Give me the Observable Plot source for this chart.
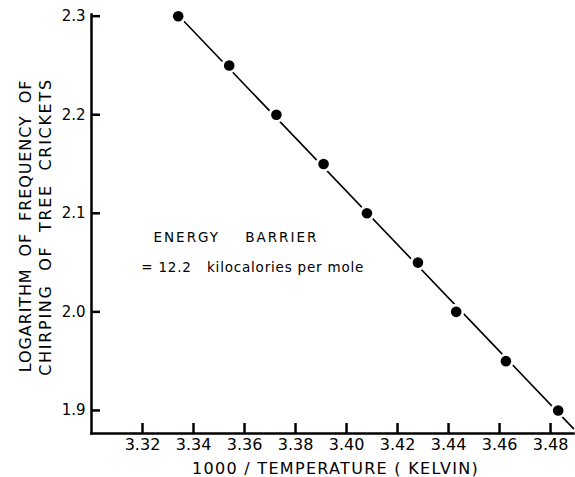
<!DOCTYPE html>
<html>
<head>
<meta charset="utf-8">
<script src="https://cdn.jsdelivr.net/npm/d3@7"></script>
<script src="https://cdn.jsdelivr.net/npm/@observablehq/plot@0.6"></script>
<style>
  html, body { margin: 0; padding: 0; background: #fff; }
  #chart svg { display: block; }
</style>
</head>
<body>
<div id="chart"></div>
<script>
// Data
const invTemp = [3.334, 3.354, 3.3725, 3.391, 3.408, 3.428, 3.443, 3.4625, 3.483];
const logFreq = [2.30, 2.25, 2.20, 2.15, 2.10, 2.05, 2.00, 1.95, 1.90];
const fitX = [3.334, 3.489];
const fitY = [2.301, 1.8815];
const xTicks = [3.32, 3.34, 3.36, 3.38, 3.40, 3.42, 3.44, 3.46, 3.48];
const yTicks = [1.9, 2.0, 2.1, 2.2, 2.3];
const xDomain = [3.30, 3.489];
const yDomain = [1.8766, 2.3017];
const yTitle1 = "LOGARITHM  OF  FREQUENCY  OF";
const yTitle2 = "CHIRPING  OF  TREE  CRICKETS";
const xTitle = "1000 / TEMPERATURE ( KELVIN)";
const noteText = ["ENERGY    BARRIER", "= 12.2   kilocalories per mole"];
const noteX = [3.3243, 3.3195];
const noteY = [2.0753, 2.0444];

const points = invTemp.map((x, i) => ({x, y: logFreq[i]}));
const fit = fitX.map((x, i) => ({x, y: fitY[i]}));
const notes = noteText.map((t, i) => ({t, x: noteX[i], y: noteY[i]}));

const W = 575, H = 477;
const mL = 91, mR = 2, mT = 14, mB = 44;
const frameW = W - mL - mR, frameH = H - mT - mB;

const chart = Plot.plot({
  width: W,
  height: H,
  marginLeft: mL,
  marginRight: mR,
  marginTop: mT,
  marginBottom: mB,
  style: {fontFamily: "DejaVu Sans", background: "#fff", color: "#000"},
  x: {domain: xDomain},
  y: {domain: yDomain},
  marks: [
    Plot.axisX(xTicks, {tickSize: 0, tickPadding: 5, tickFormat: d3.format(".2f"), fontSize: 16, label: null}),
    Plot.axisY(yTicks, {tickSize: 0, tickPadding: 6, tickFormat: d3.format(".1f"), fontSize: 15, label: null}),
    Plot.ruleX(xTicks, {x: d => d, insetTop: frameH - 10, strokeWidth: 2.5, stroke: "#000"}),
    Plot.ruleY(yTicks, {y: d => d, insetRight: frameW - 9, strokeWidth: 2.5, stroke: "#000"}),
    Plot.frame({anchor: "left", strokeWidth: 2.5, stroke: "#000"}),
    Plot.frame({anchor: "bottom", strokeWidth: 2.5, stroke: "#000"}),
    Plot.line(fit, {x: "x", y: "y", stroke: "#000", strokeWidth: 1.6}),
    Plot.dot(points, {x: "x", y: "y", r: 8, fill: "#fff", stroke: "none"}),
    Plot.dot(points, {x: "x", y: "y", r: 5.3, fill: "#000", stroke: "none"}),
    Plot.text(notes, {x: "x", y: "y", text: "t", textAnchor: "start", lineAnchor: "middle", fontSize: 13.5, fill: "#000"}),
    Plot.text([yTitle1], {frameAnchor: "left", textAnchor: "middle", lineAnchor: "middle", rotate: -90, dx: -66, dy: 2, text: d => d, fontSize: 16, fill: "#000"}),
    Plot.text([yTitle2], {frameAnchor: "left", textAnchor: "middle", lineAnchor: "middle", rotate: -90, dx: -46, dy: 3, text: d => d, fontSize: 16, fill: "#000"}),
    Plot.text([xTitle], {frameAnchor: "bottom", textAnchor: "middle", lineAnchor: "middle", dy: 35, dx: 3, text: d => d, fontSize: 16, fill: "#000"})
  ]
});

// letter spacing (not a Plot text option) applied to the rendered text groups
const textGroups = chart.querySelectorAll('g[aria-label="text"]');
const spacings = [null, 0.9, 1.7, 1.3];
textGroups.forEach((g, i) => { if (spacings[i] != null) g.setAttribute("letter-spacing", spacings[i]); });
if (textGroups[0]) {
  const t = textGroups[0].querySelectorAll("text");
  if (t[0]) t[0].setAttribute("letter-spacing", 2);
  if (t[1]) t[1].setAttribute("letter-spacing", 0.8);
}
document.getElementById("chart").appendChild(chart);
</script>
</body>
</html>
